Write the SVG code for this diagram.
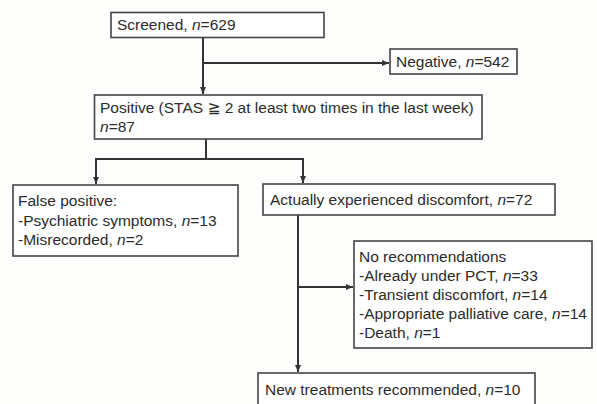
<svg xmlns="http://www.w3.org/2000/svg" width="597" height="404" viewBox="0 0 597 404">
<defs>
<marker id="ah" markerWidth="8" markerHeight="8" refX="7" refY="4" orient="auto" markerUnits="userSpaceOnUse">
<path d="M0,1 L7,4 L0,7 Z" fill="#333"/>
</marker>
<style>
.box{fill:#fff;stroke:#444;stroke-width:1.6}
.t{font-family:"Liberation Sans",Arial,"DejaVu Sans",sans-serif;font-size:15.5px;fill:#2b2b2b}
.i{font-style:italic}
.c{fill:none;stroke:#333;stroke-width:2}
</style>
</defs>
<rect width="597" height="404" fill="#fdfdfc"/>
<g id="connectors">
<line class="c" x1="203" y1="37" x2="203" y2="94" marker-end="url(#ah)"/>
<line class="c" x1="203" y1="63" x2="389" y2="63" marker-end="url(#ah)"/>
<line class="c" x1="206" y1="139" x2="206" y2="159"/>
<polyline class="c" points="96,184 96,159 303,159 303,183" />
<line class="c" x1="96" y1="159" x2="96" y2="184" marker-end="url(#ah)"/>
<line class="c" x1="303" y1="159" x2="303" y2="183" marker-end="url(#ah)"/>
<line class="c" x1="298" y1="215" x2="298" y2="372" marker-end="url(#ah)"/>
<line class="c" x1="298" y1="287" x2="353" y2="287" marker-end="url(#ah)"/>
</g>
<g id="screened">
<rect class="box" x="111" y="12.5" width="213" height="25"/>
<text class="t" x="117" y="30">Screened, <tspan class="i">n</tspan>=629</text>
</g>
<g id="negative">
<rect class="box" x="390" y="49" width="127" height="25"/>
<text class="t" x="396" y="67">Negative, <tspan class="i">n</tspan>=542</text>
</g>
<g id="positive">
<rect class="box" x="94.5" y="95" width="387.5" height="44"/>
<text class="t" x="100" y="113">Positive (STAS ≧ 2 at least two times in the last week)</text>
<text class="t" x="100" y="132"><tspan class="i">n</tspan>=87</text>
</g>
<g id="false-positive">
<rect class="box" x="13" y="185" width="225" height="71"/>
<text class="t" x="18" y="206">False positive:</text>
<text class="t" x="18" y="226">-Psychiatric symptoms, <tspan class="i">n</tspan>=13</text>
<text class="t" x="18" y="245">-Misrecorded, <tspan class="i">n</tspan>=2</text>
</g>
<g id="actually">
<rect class="box" x="263" y="184" width="292" height="31"/>
<text class="t" x="270" y="205">Actually experienced discomfort, <tspan class="i">n</tspan>=72</text>
</g>
<g id="no-recommendations">
<rect class="box" x="354" y="241" width="238" height="107"/>
<text class="t" x="359" y="262">No recommendations</text>
<text class="t" x="359" y="281">-Already under PCT, <tspan class="i">n</tspan>=33</text>
<text class="t" x="359" y="300">-Transient discomfort, <tspan class="i">n</tspan>=14</text>
<text class="t" x="359" y="319">-Appropriate palliative care, <tspan class="i">n</tspan>=14</text>
<text class="t" x="359" y="338">-Death, <tspan class="i">n</tspan>=1</text>
</g>
<g id="new-treatments">
<rect class="box" x="258" y="373" width="277" height="40"/>
<text class="t" x="265" y="395">New treatments recommended, <tspan class="i">n</tspan>=10</text>
</g>
</svg>
